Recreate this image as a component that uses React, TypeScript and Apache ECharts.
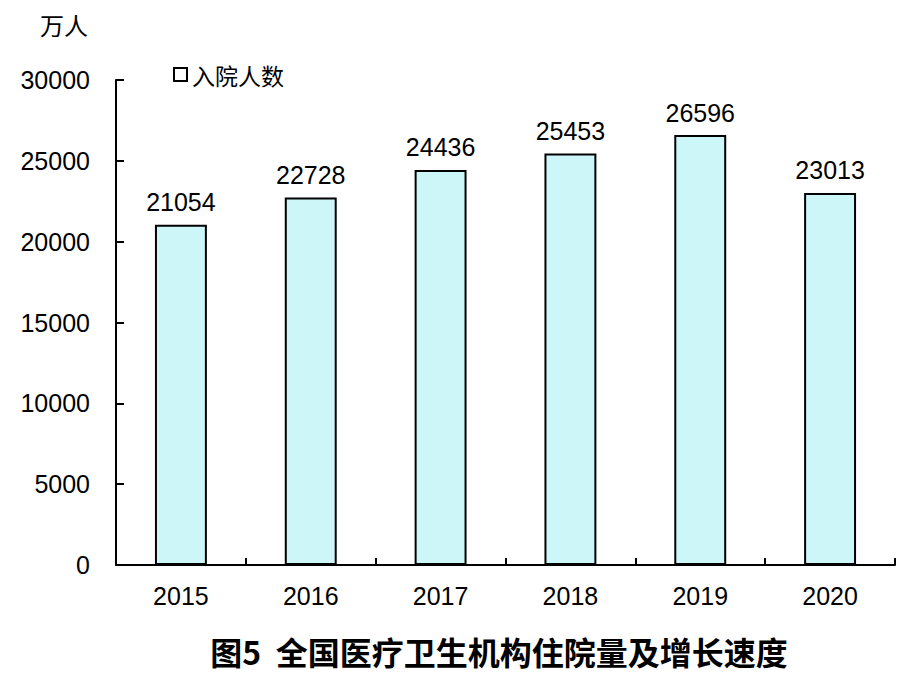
import React, { useEffect, useRef } from "react";
import * as echarts from "echarts";

const years = ["2015", "2016", "2017", "2018", "2019", "2020"];
const admissions = [21054, 22728, 24436, 25453, 26596, 23013];
const seriesName = "入院人数";
const unitLabel = "万人";
const chartTitle = "图5  全国医疗卫生机构住院量及增长速度";

export default function App() {
  const ref = useRef<HTMLDivElement>(null);
  useEffect(() => {
    const chart = echarts.init(ref.current!, null, { renderer: "svg" });
    const font = "'Liberation Sans', Arial, 'Noto Sans CJK SC', sans-serif";
    chart.setOption({
      animation: false,
      backgroundColor: "#ffffff",
      textStyle: { fontFamily: font, color: "#000" },
      title: {
        text: chartTitle,
        left: 494,
        textAlign: "center",
        top: 630,
        textStyle: { fontFamily: "'Noto Sans CJK SC', sans-serif", fontWeight: "bold", fontSize: 32, color: "#000" },
      },
      legend: {
        left: 168,
        top: 58,
        itemWidth: 13,
        itemHeight: 13,
        itemGap: 5,
        icon: "rect",
        data: [{ name: seriesName, itemStyle: { color: "#fff", borderColor: "#000", borderWidth: 2 } }],
        textStyle: { fontFamily: "'Noto Sans CJK SC', sans-serif", fontSize: 23, color: "#000", padding: [0, 0, 0, 0] },
      },
      graphic: [
        {
          type: "text",
          left: 40,
          top: 12,
          style: { text: unitLabel, font: "24px 'Noto Sans CJK SC', sans-serif", fill: "#000" },
        },
      ],
      grid: { left: 116, right: 27, top: 80, bottom: 109, containLabel: false },
      xAxis: {
        type: "category",
        data: years,
        axisLine: { lineStyle: { color: "#000", width: 2 } },
        axisTick: { show: true, inside: true, length: 7, alignWithLabel: false, lineStyle: { color: "#000", width: 2 } },
        axisLabel: { fontSize: 25, color: "#000", margin: 18, fontFamily: font },
      },
      yAxis: {
        type: "value",
        min: 0,
        max: 30000,
        interval: 5000,
        splitLine: { show: false },
        axisLine: { show: true, lineStyle: { color: "#000", width: 2 } },
        axisTick: { show: true, inside: true, length: 8, lineStyle: { color: "#000", width: 2 } },
        axisLabel: { fontSize: 25, color: "#000", margin: 26, fontFamily: font, formatter: (v: number) => String(v) },
      },
      series: [
        {
          name: seriesName,
          type: "bar",
          data: admissions,
          barWidth: "40%",
          itemStyle: { color: "#CCF6F8", borderColor: "#000", borderWidth: 2 },
          label: { show: true, position: "top", distance: 10, fontSize: 25, color: "#000", fontFamily: font },
        },
      ],
    });
    return () => chart.dispose();
  }, []);
  return <div ref={ref} style={{ width: 922, height: 674, position: "absolute", left: 0, top: 0 }} />;
}
